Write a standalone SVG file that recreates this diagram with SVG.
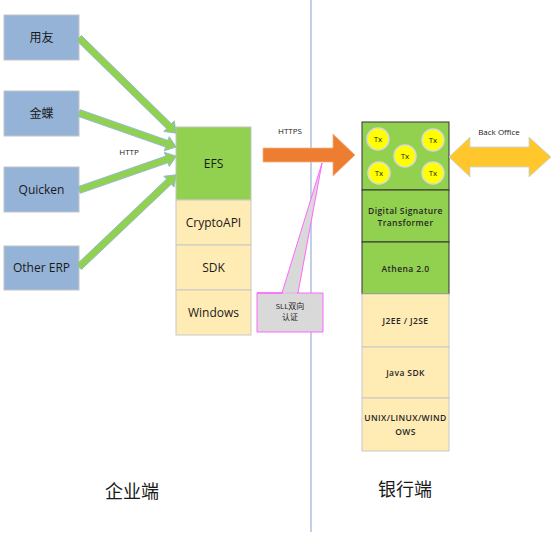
<svg xmlns="http://www.w3.org/2000/svg" width="554" height="535" viewBox="0 0 554 535">
<style>
text{font-family:"Open Sans","Liberation Sans","Noto Sans CJK SC",sans-serif;fill:#1a1a1a;text-anchor:middle}
.blue{fill:#95B3D7;stroke:#C4C4C4;stroke-width:1}
.green{fill:#92D050;stroke:#C4C4C4;stroke-width:1}
.beige{fill:#FFEBB4;stroke:#C8C8C8;stroke-width:1}
.bg{fill:#92D050;stroke:#333;stroke-width:1}
.bb{fill:#FFEBB4;stroke:#C8C8C8;stroke-width:1}
.t12{font-size:12px}
.t9{font-size:8.5px;letter-spacing:0.4px;font-weight:600;fill:#262626}
.t8{font-size:8px}
.tx{fill:#FFFF00;stroke:#D9D9D9;stroke-width:1.5}
.ga{fill:#92D050;stroke:#8EB4E3;stroke-width:0.8}
</style>
<rect width="554" height="535" fill="#fff"/>
<line x1="311" y1="0" x2="311" y2="532" stroke="#95B3D7" stroke-width="1.2"/>
<g id="n-yongyou"><rect class="blue" x="4" y="15" width="75" height="45"/><text class="t12" x="41.5" y="42">用友</text></g>
<g id="n-jindie"><rect class="blue" x="4" y="91" width="75" height="45"/><text class="t12" x="41.5" y="118">金蝶</text></g>
<g id="n-quicken"><rect class="blue" x="4" y="167" width="75" height="45"/><text class="t12" x="41.5" y="194">Quicken</text></g>
<g id="n-othererp"><rect class="blue" x="4" y="246" width="75" height="44"/><text class="t12" x="41.5" y="272">Other ERP</text></g>
<g id="n-efs-stack">
<rect class="green" x="176" y="127" width="75" height="73"/><text class="t12" x="213.5" y="168">EFS</text>
<rect class="beige" x="176" y="200" width="75" height="45"/><text class="t12" x="213.5" y="227">CryptoAPI</text>
<rect class="beige" x="176" y="245" width="75" height="45"/><text class="t12" x="213.5" y="272">SDK</text>
<rect class="beige" x="176" y="290" width="75" height="45"/><text class="t12" x="213.5" y="317">Windows</text>
</g>
<g id="n-bank-stack">
<rect class="bg" x="362" y="122" width="87" height="68"/>
<circle class="tx" cx="378" cy="139" r="11"/><text class="t8" x="378" y="142">Tx</text>
<circle class="tx" cx="433" cy="140" r="11"/><text class="t8" x="433" y="143">Tx</text>
<circle class="tx" cx="405" cy="156" r="11"/><text class="t8" x="405" y="159">Tx</text>
<circle class="tx" cx="379" cy="173" r="11"/><text class="t8" x="379" y="176">Tx</text>
<circle class="tx" cx="433" cy="173" r="11"/><text class="t8" x="433" y="176">Tx</text>
<rect class="bg" x="362" y="190" width="87" height="52"/><text class="t9" x="405.5" y="214">Digital Signature</text><text class="t9" x="405.5" y="226">Transformer</text>
<rect class="bg" x="362" y="242" width="87" height="52"/><text class="t9" x="405.5" y="272">Athena 2.0</text>
<rect class="bb" x="362" y="294" width="87" height="53"/><text class="t9" x="405.5" y="324">J2EE / J2SE</text>
<rect class="bb" x="362" y="347" width="87" height="51"/><text class="t9" x="405.5" y="376">Java SDK</text>
<rect class="bb" x="362" y="398" width="87" height="53"/><text class="t9" x="405.5" y="421">UNIX/LINUX/WIND</text><text class="t9" x="405.5" y="435">OWS</text>
</g>
<g id="n-callout">
<polygon points="257,293 323,293 323,332 257,332 257,293 282,293 322,163 298,293" fill="#D9D9D9" stroke="#FF66FF" stroke-width="1"/>
<line x1="283" y1="293" x2="297" y2="293" stroke="#D9D9D9" stroke-width="1.5"/>
<text class="t8" x="290" y="309">SLL双向</text><text class="t8" x="290" y="320">认证</text>
</g>
<g id="connectors">
<g transform="translate(79,38) rotate(44.4)"><polygon class="ga" points="0,-3.5 126,-3.5 126,-7.5 136,0 126,7.5 126,3.5 0,3.5"/></g>
<g transform="translate(79,113) rotate(19.3)"><polygon class="ga" points="0,-3.5 93,-3.5 93,-7.5 103,0 93,7.5 93,3.5 0,3.5"/></g>
<g transform="translate(79,190) rotate(-19.2)"><polygon class="ga" points="0,-3.5 93,-3.5 93,-7.5 103,0 93,7.5 93,3.5 0,3.5"/></g>
<g transform="translate(79,267) rotate(-43.5)"><polygon class="ga" points="0,-3.5 124,-3.5 124,-7.5 134,0 124,7.5 124,3.5 0,3.5"/></g>
<polygon points="263,148 333,148 333,134 355,155 333,176 333,162 263,162" fill="#ED7D31" stroke="#F4B183" stroke-width="0.8"/>
<polygon points="449,157 470,137 470,147 529,147 529,137 551,157 529,177 529,167 470,167 470,177" fill="#FFC72C" stroke="#BDD7EE" stroke-width="0.8"/>
<text class="t8" x="129" y="155">HTTP</text>
<text class="t8" x="290" y="134">HTTPS</text>
<text class="t8" x="499" y="135">Back Office</text>
</g>
<text x="132" y="498" style="font-size:18px">企业端</text>
<text x="405" y="496" style="font-size:18px">银行端</text>
</svg>
